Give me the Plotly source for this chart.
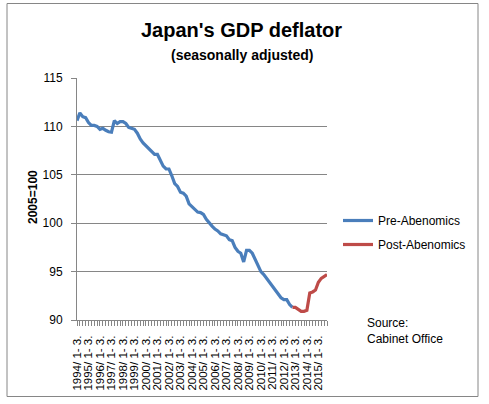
import plotly.graph_objects as go

# ---- data ----
years = list(range(1994, 2016))
quarter_names = ["1- 3.", "4- 6.", "7- 9.", "10-12."]
deflator = [
    110.6, 111.4, 111.0, 110.9,   # 1994
    110.4, 110.1, 110.1, 110.0,   # 1995
    109.7, 109.8, 109.6, 109.45,  # 1996
    109.4, 110.6, 110.3, 110.5,   # 1997
    110.5, 110.3, 109.9, 109.8,   # 1998
    109.7, 109.3, 108.7, 108.3,   # 1999
    108.0, 107.7, 107.4, 107.1,   # 2000
    107.1, 106.5, 105.9, 105.6,   # 2001
    105.6, 104.9, 104.1, 103.8,   # 2002
    103.2, 103.1, 102.8, 102.0,   # 2003
    101.7, 101.4, 101.15, 101.1,  # 2004
    100.9, 100.4, 100.0, 99.7,    # 2005
    99.4, 99.2, 98.9, 98.8,       # 2006
    98.7, 98.3, 98.2, 97.5,       # 2007
    97.1, 96.9, 96.0, 97.2,       # 2008
    97.2, 96.9, 96.2, 95.5,       # 2009
    95.0, 94.7, 94.3, 93.8,       # 2010
    93.4, 93.0, 92.6, 92.3,       # 2011
    92.1, 92.1, 91.6, 91.3,       # 2012
    91.3, 91.1, 90.9, 90.9,       # 2013
    91.0, 92.8, 92.9, 93.1,       # 2014
    93.9, 94.3, 94.5, 94.7,       # 2015
]
abenomics_start = 75  # 2012 Q4 (index into quarters)
y_ticks = [90, 95, 100, 105, 110, 115]

# ---- categories ----
categories = []
for yr in years:
    for qi, qn in enumerate(quarter_names):
        categories.append(f"{yr}/ {qn}" if qi == 0 else qn)
idx = list(range(len(deflator)))
label_vals = [i for i in idx if i % 4 == 0]
label_text = [categories[i] for i in label_vals]

pre_x = idx[: abenomics_start + 1]
pre_y = deflator[: abenomics_start + 1]
post_x = idx[abenomics_start:]
post_y = deflator[abenomics_start:]

W, H = 489, 404
ML, MR, MT, MB = 77, 162, 78, 84
PW, PH = W - ML - MR, H - MT - MB


def px2x(px):
    return (px - ML) / PW


def px2y(py):
    return (H - MB - py) / PH


FONT = "Liberation Sans"
GRID = "#868686"

fig = go.Figure()
fig.add_trace(go.Scatter(
    x=pre_x, y=pre_y, mode="lines", name="Pre-Abenomics",
    line=dict(color="#4A7EBB", width=3.2), legend="legend", showlegend=True,
))
fig.add_trace(go.Scatter(
    x=post_x, y=post_y, mode="lines", name="Post-Abenomics",
    line=dict(color="#BE4B48", width=3.2), legend="legend2", showlegend=True,
))

fig.update_layout(
    width=W, height=H, showlegend=True,
    margin=dict(l=ML, r=MR, t=MT, b=MB, pad=0),
    paper_bgcolor="white", plot_bgcolor="white",
    font=dict(family=FONT, size=12, color="black"),
    legend=dict(x=px2x(338), y=px2y(206), xanchor="left", yanchor="top",
                font=dict(family=FONT, size=12), bgcolor="rgba(0,0,0,0)",
                visible=True),
    legend2=dict(x=px2x(338), y=px2y(230), xanchor="left", yanchor="top",
                 font=dict(family=FONT, size=12), bgcolor="rgba(0,0,0,0)",
                 visible=True),
    xaxis=dict(
        range=[0, len(deflator) - 1],
        tickmode="array", tickvals=label_vals, ticktext=label_text,
        tickangle=-90, tickfont=dict(family=FONT, size=11.5),
        ticks="outside", ticklen=5, tickcolor=GRID, tickwidth=1,
        minor=dict(dtick=1, tick0=0, ticks="outside", ticklen=5,
                   tickcolor=GRID, tickwidth=1, showgrid=False),
        showline=True, linecolor=GRID, linewidth=1,
        showgrid=False, zeroline=False,
        ticklabelstandoff=5,
    ),
    yaxis=dict(
        range=[90, 115], tickvals=y_ticks,
        tickfont=dict(family=FONT, size=12),
        ticks="outside", ticklen=5, tickcolor=GRID, tickwidth=1,
        showline=True, linecolor=GRID, linewidth=1,
        showgrid=True, gridcolor=GRID, gridwidth=1, zeroline=False,
        ticklabelstandoff=6,
    ),
    shapes=[dict(type="rect", xref="paper", yref="paper",
                 x0=px2x(7), x1=px2x(478), y0=px2y(396.5), y1=px2y(3.5),
                 line=dict(color=GRID, width=1), fillcolor="rgba(0,0,0,0)",
                 layer="below")],
    annotations=[
        dict(text="<b>Japan's GDP deflator</b>", xref="paper", yref="paper",
             x=px2x(241), y=px2y(30), xanchor="center", yanchor="middle",
             showarrow=False, font=dict(family=FONT, size=20)),
        dict(text="<b>(seasonally adjusted)</b>", xref="paper", yref="paper",
             x=px2x(242), y=px2y(54.5), xanchor="center", yanchor="middle",
             showarrow=False, font=dict(family=FONT, size=14)),
        dict(text="<b>2005=100</b>", xref="paper", yref="paper",
             x=px2x(33), y=px2y(197), xanchor="center", yanchor="middle",
             textangle=-90, showarrow=False, font=dict(family=FONT, size=12)),
        dict(text="Source:<br>Cabinet Office", xref="paper", yref="paper",
             x=px2x(365), y=px2y(330.5), xanchor="left", yanchor="middle",
             align="left", showarrow=False, font=dict(family=FONT, size=12)),
    ],
)

fig.write_html(
    "out.html",
    config={"displayModeBar": False},
    post_script="document.body.style.margin='0';document.body.style.overflow='hidden';",
)
